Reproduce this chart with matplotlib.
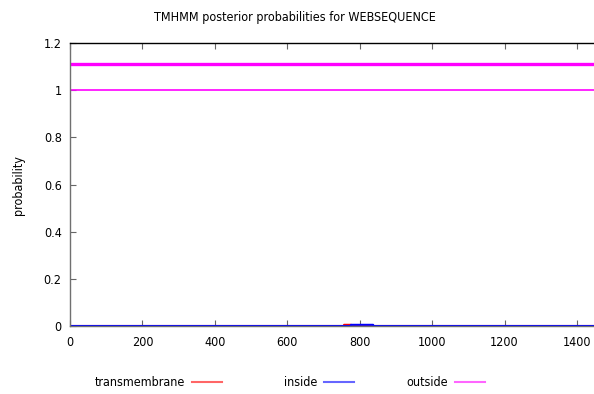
import numpy as np
import matplotlib
matplotlib.use("Agg")
import matplotlib.pyplot as plt

plt.rcParams['font.family'] = ['DejaVu Sans']
plt.rcParams['font.stretch'] = 'condensed'

# ------------------------------------------------------------
# DATA
# ------------------------------------------------------------
seq_len = 1447
tm_x = [1, 756, 757, 776, 777, seq_len]
tm_y = [0, 0, 0.005, 0.005, 0, 0]
in_x = [1, 775, 776, 837, 838, seq_len]
in_y = [0, 0, 0.005, 0.005, 0, 0]
out_x = [1, seq_len]
out_y = [1, 1]
# predicted topology bar (outside all along)
topo_x = [1, seq_len]
topo_y = [1.11, 1.11]

x_ticks = [0, 200, 400, 600, 800, 1000, 1200, 1400]
y_ticks = [0, 0.2, 0.4, 0.6, 0.8, 1, 1.2]
y_labels = ['0', '0.2', '0.4', '0.6', '0.8', '1', '1.2']

# ------------------------------------------------------------
# PLOT
# ------------------------------------------------------------
fig = plt.figure(figsize=(5.94, 3.94), dpi=100)
ax = fig.add_axes([70 / 594, 1 - 326 / 394, 1 - 70 / 594, 283 / 394])

ax.plot(topo_x, topo_y, color='#ff00ff', lw=2.4, solid_capstyle='butt')
ax.plot(out_x, out_y, color='#ff00ff', lw=1.2)
ax.plot(tm_x, tm_y, color='#ff0000', lw=1.5)
ax.plot(in_x, in_y, color='#0000ff', lw=1.5)

ax.set_xlim(0, seq_len)
ax.set_ylim(0, 1.2)
ax.set_xticks(x_ticks)
ax.set_yticks(y_ticks)
ax.set_yticklabels(y_labels)
ax.tick_params(direction='in', length=4, width=0.8, color='#666666',
               labelsize=9, top=True, pad=7)
ax.tick_params(axis='y', pad=6)

ax.spines['right'].set_visible(False)
ax.spines['top'].set_color('black')
ax.spines['left'].set_color('#707070')
ax.spines['bottom'].set_color('#707070')
for s in ax.spines.values():
    s.set_linewidth(1)

fig.text(18 / 594, 1 - 185 / 394, 'probability', rotation=90,
         ha='center', va='center', fontsize=9)
fig.text(0.497, 1 - 17 / 394, 'TMHMM posterior probabilities for WEBSEQUENCE',
         ha='center', va='center', fontsize=9)

# legend at the bottom, gnuplot style
leg = [('transmembrane', '#ff6666', 187), ('inside', '#6666ff', 319),
       ('outside', '#ff66ff', 450)]
ly = 1 - 382 / 394
for txt, col, xr in leg:
    fig.text((xr - 2) / 594, ly, txt, ha='right', va='center', fontsize=9)
    fig.add_artist(plt.Line2D([(xr + 5) / 594, (xr + 35) / 594], [ly, ly],
                              color=col, lw=1.5, transform=fig.transFigure))

fig.savefig('out.png', dpi=100)
